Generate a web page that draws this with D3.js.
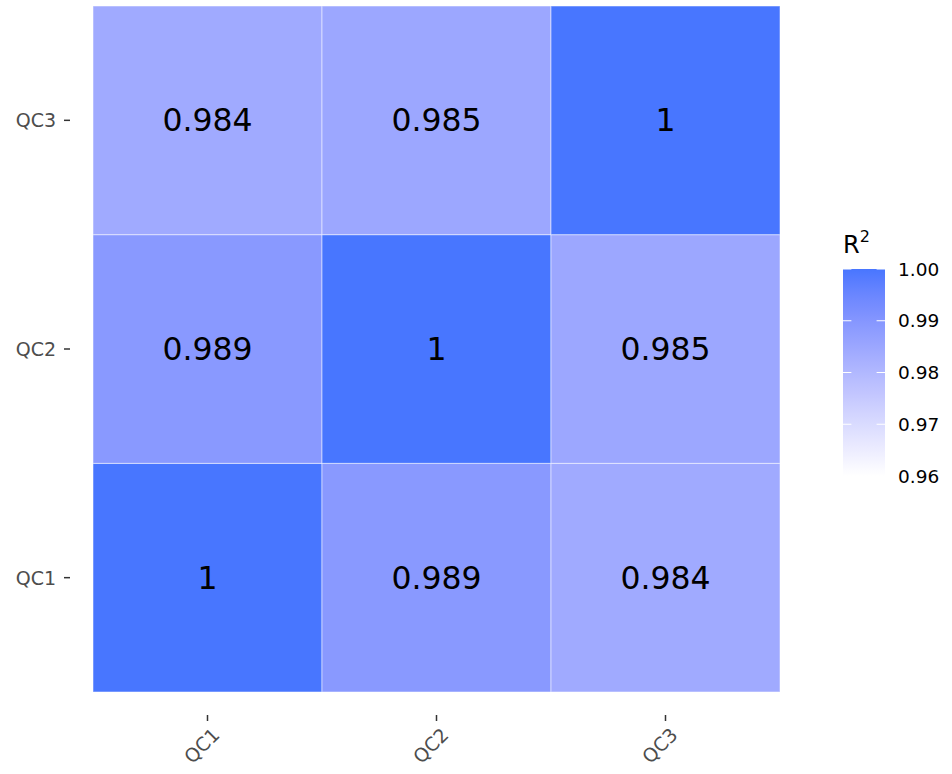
<!DOCTYPE html>
<html><head><meta charset="utf-8">
<script src="https://cdn.jsdelivr.net/npm/d3@7"></script>
<style>body{margin:0;background:#fff}svg{display:block}text{font-family:"DejaVu Sans",sans-serif}</style>
</head><body><svg id="c" width="952" height="774"></svg>
<script>
const samples = ["QC1", "QC2", "QC3"];
// R^2 value of each column sample against the row sample
const rowQC1 = [1, 0.989, 0.984];
const rowQC2 = [0.989, 1, 0.985];
const rowQC3 = [0.984, 0.985, 1];
const legendTicks = [0.96, 0.97, 0.98, 0.99, 1.00];
const legendDomain = [0.96, 1.00];

const rows = [rowQC1, rowQC2, rowQC3];
const cells = [];
rows.forEach((r, i) => r.forEach((v, j) => cells.push({x: samples[j], y: samples[i], v})));

const svg = d3.select("#c");
const tileL = 93, tileR = 780, tileT = 6, tileB = 692;
const x = d3.scaleBand().domain(samples).range([tileL, tileR]);
const y = d3.scaleBand().domain(samples).range([tileB, tileT]);
const color = d3.scaleLinear().domain(legendDomain).range(["#ffffff", "#4876ff"]).interpolate(d3.interpolateLab).clamp(true);

const g = svg.append("g");
g.selectAll("rect.cell").data(cells).join("rect")
  .attr("x", d => x(d.x)).attr("y", d => y(d.y))
  .attr("width", x.bandwidth()).attr("height", y.bandwidth())
  .attr("fill", d => color(d.v))
  .attr("stroke", "rgba(255,255,255,0.5)").attr("stroke-width", 1);

g.selectAll("text.val").data(cells).join("text")
  .attr("x", d => x(d.x) + x.bandwidth() / 2)
  .attr("y", d => y(d.y) + y.bandwidth() / 2)
  .attr("text-anchor", "middle").attr("dominant-baseline", "central")
  .attr("font-size", 31.5).attr("fill", "#000")
  .text(d => d3.format("")(d.v));

// axes
const panelL = 70, panelB = 715;
samples.forEach(s => {
  const cy = y(s) + y.bandwidth() / 2;
  svg.append("line").attr("x1", panelL - 6).attr("x2", panelL).attr("y1", cy).attr("y2", cy)
    .attr("stroke", "#333").attr("stroke-width", 1.5);
  svg.append("text").attr("x", panelL - 14).attr("y", cy).attr("text-anchor", "end")
    .attr("dominant-baseline", "central").attr("font-size", 19).attr("fill", "#4d4d4d").text(s);
  const cx = x(s) + x.bandwidth() / 2;
  svg.append("line").attr("x1", cx).attr("x2", cx).attr("y1", panelB).attr("y2", panelB + 6)
    .attr("stroke", "#333").attr("stroke-width", 1.5);
  svg.append("text").attr("transform", `translate(${cx + 3},${panelB + 11}) rotate(-45)`)
    .attr("text-anchor", "end").attr("dominant-baseline", "hanging")
    .attr("font-size", 19).attr("fill", "#4d4d4d").text(s);
});

// legend
const lx = 843, lw = 42, lTop = 269, lBot = 476;
const ly = d3.scaleLinear().domain(legendDomain).range([lBot, lTop]);
const defs = svg.append("defs");
const grad = defs.append("linearGradient").attr("id", "lg").attr("x1", 0).attr("y1", 1).attr("x2", 0).attr("y2", 0);
d3.range(0, 1.0001, 0.05).forEach(t => {
  grad.append("stop").attr("offset", t).attr("stop-color", color(legendDomain[0] + t * (legendDomain[1] - legendDomain[0])));
});
svg.append("rect").attr("x", lx).attr("y", lTop).attr("width", lw).attr("height", lBot - lTop).attr("fill", "url(#lg)");
legendTicks.forEach(t => {
  const ty = ly(t);
  svg.append("line").attr("x1", lx).attr("x2", lx + 8.4).attr("y1", ty).attr("y2", ty).attr("stroke", "#fff").attr("stroke-width", 1);
  svg.append("line").attr("x1", lx + lw - 8.4).attr("x2", lx + lw).attr("y1", ty).attr("y2", ty).attr("stroke", "#fff").attr("stroke-width", 1);
  svg.append("text").attr("x", 898).attr("y", ty).attr("dominant-baseline", "central")
    .attr("font-size", 18.5).attr("fill", "#000").text(d3.format(".2f")(t));
});
const title = svg.append("text").attr("x", 843).attr("y", 253).attr("font-size", 24).attr("fill", "#000");
title.append("tspan").text("R");
title.append("tspan").attr("dy", -11).attr("font-size", 16).text("2");
</script></body></html>
